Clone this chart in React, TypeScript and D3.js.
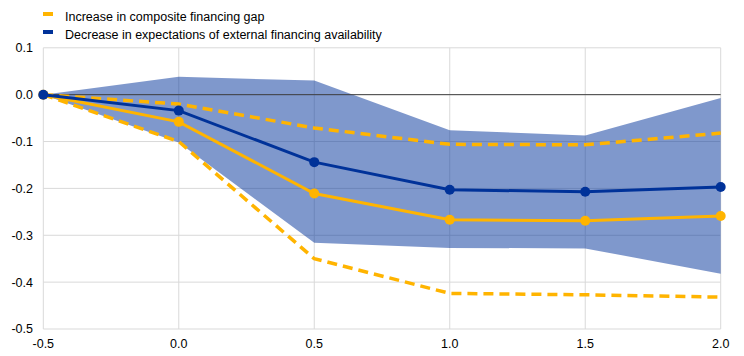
import React from "react";
import * as d3 from "d3";

const xValues = [-0.5, 0.0, 0.5, 1.0, 1.5, 2.0];
const gapMean = [0, -0.058, -0.211, -0.267, -0.269, -0.259];
const gapUpper = [0, -0.02, -0.071, -0.106, -0.107, -0.082];
const gapLower = [0, -0.1, -0.35, -0.424, -0.427, -0.432];
const availMean = [0, -0.034, -0.144, -0.203, -0.207, -0.197];
const availUpper = [0, 0.038, 0.03, -0.076, -0.087, -0.007];
const availLower = [0, -0.102, -0.316, -0.327, -0.328, -0.382];
const xTicks = [-0.5, 0.0, 0.5, 1.0, 1.5, 2.0];
const yTicks = [0.1, 0.0, -0.1, -0.2, -0.3, -0.4, -0.5];
const legendLabels = [
  "Increase in composite financing gap",
  "Decrease in expectations of external financing availability",
];

const YELLOW = "#ffb400";
const BLUE = "#003299";
const FONT = "Arial, 'Liberation Sans', sans-serif";

export default function App() {
  const W = 744;
  const H = 356;
  const x = d3.scaleLinear().domain([-0.5, 2.0]).range([43.3, 720.7]);
  const y = d3.scaleLinear().domain([-0.5, 0.1]).range([329, 47.8]);

  const line = (vals: number[]) =>
    d3
      .line<number>()
      .x((_, i) => x(xValues[i]))
      .y((d) => y(d))(vals) as string;

  const area = d3
    .area<number>()
    .x((_, i) => x(xValues[i]))
    .y0((_, i) => y(availLower[i]))
    .y1((d) => y(d))(availUpper) as string;

  return (
    <svg
      width={W}
      height={H}
      style={{ position: "absolute", left: 0, top: 0 }}
      fontFamily={FONT}
    >
      <rect width={W} height={H} fill="#fff" />
      {yTicks.map((t) => (
        <line
          key={"gy" + t}
          x1={x(-0.5)}
          x2={x(2.0)}
          y1={y(t)}
          y2={y(t)}
          stroke="#d9d9d9"
          strokeWidth={1}
        />
      ))}
      {xTicks.map((t) => (
        <line
          key={"gx" + t}
          x1={x(t)}
          x2={x(t)}
          y1={y(0.1)}
          y2={y(-0.5)}
          stroke="#d9d9d9"
          strokeWidth={1}
        />
      ))}
      <path d={area} fill={BLUE} fillOpacity={0.5} />
      <line
        x1={x(-0.5)}
        x2={x(2.0)}
        y1={y(0)}
        y2={y(0)}
        stroke="#404040"
        strokeWidth={1}
      />
      <path d={line(gapUpper)} fill="none" stroke={YELLOW} strokeWidth={3.5} strokeDasharray="10,6" />
      <path d={line(gapLower)} fill="none" stroke={YELLOW} strokeWidth={3.5} strokeDasharray="10,6" />
      <path d={line(gapMean)} fill="none" stroke={YELLOW} strokeWidth={3} />
      {gapMean.map((v, i) => (
        <circle key={"ym" + i} cx={x(xValues[i])} cy={y(v)} r={5} fill={YELLOW} />
      ))}
      <path d={line(availMean)} fill="none" stroke={BLUE} strokeWidth={3} />
      {availMean.map((v, i) => (
        <circle key={"bm" + i} cx={x(xValues[i])} cy={y(v)} r={5} fill={BLUE} />
      ))}
      {yTicks.map((t) => (
        <text
          key={"yl" + t}
          x={33}
          y={y(t)}
          dy="0.35em"
          textAnchor="end"
          fontSize={12.5}
          fill="#000"
        >
          {d3.format(".1f")(t).replace("−", "-")}
        </text>
      ))}
      {xTicks.map((t) => (
        <text
          key={"xl" + t}
          x={x(t)}
          y={348}
          textAnchor="middle"
          fontSize={12.5}
          fill="#000"
        >
          {d3.format(".1f")(t).replace("−", "-")}
        </text>
      ))}
      {legendLabels.map((lab, i) => (
        <g key={"lg" + i}>
          <rect x={43} y={12 + i * 18} width={10} height={4} fill={i === 0 ? YELLOW : BLUE} />
          <text x={65} y={20.5 + i * 18} fontSize={12.5} fill="#000">
            {lab}
          </text>
        </g>
      ))}
    </svg>
  );
}
